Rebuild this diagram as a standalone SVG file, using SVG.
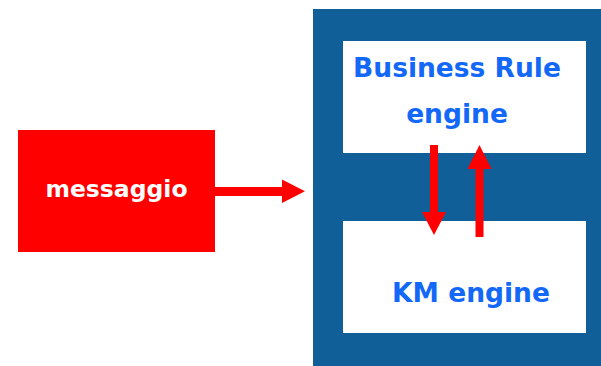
<svg xmlns="http://www.w3.org/2000/svg" width="601" height="366" viewBox="0 0 601 366">
<style>
.lbl{font-family:"DejaVu Sans","Liberation Sans",sans-serif;font-weight:bold;text-anchor:middle}
.blue{fill:#1468f8;font-size:26.5px}
.white{fill:#ffffff;font-size:23.5px}
.arr{fill:#ff0000}
</style>
<rect width="601" height="366" fill="#ffffff"/>
<g id="container">
<rect x="313" y="9" width="288" height="357" fill="#115f99"/>
</g>
<g id="messaggio">
<rect x="18" y="130" width="197" height="122" fill="#ff0000"/>
<text class="lbl white" x="116.5" y="197">messaggio</text>
</g>
<g id="business-rule-engine">
<rect x="343" y="41" width="243" height="112" fill="#ffffff"/>
<text class="lbl blue" x="457" y="77">Business Rule</text>
<text class="lbl blue" x="457" y="123">engine</text>
</g>
<g id="km-engine">
<rect x="343" y="221" width="243" height="112" fill="#ffffff"/>
<text class="lbl blue" x="471" y="302">KM engine</text>
</g>
<g id="connectors">
<polygon class="arr" points="215,187 282,187 282,179.5 305,191.3 282,203 282,196 215,196"/>
<polygon class="arr" points="430,145 438,145 438,212 446,212 434,235 422,212 430,212"/>
<polygon class="arr" points="475.5,237 483.5,237 483.5,169 491.5,169 479.5,145 467.5,169 475.5,169"/>
</g>
</svg>
